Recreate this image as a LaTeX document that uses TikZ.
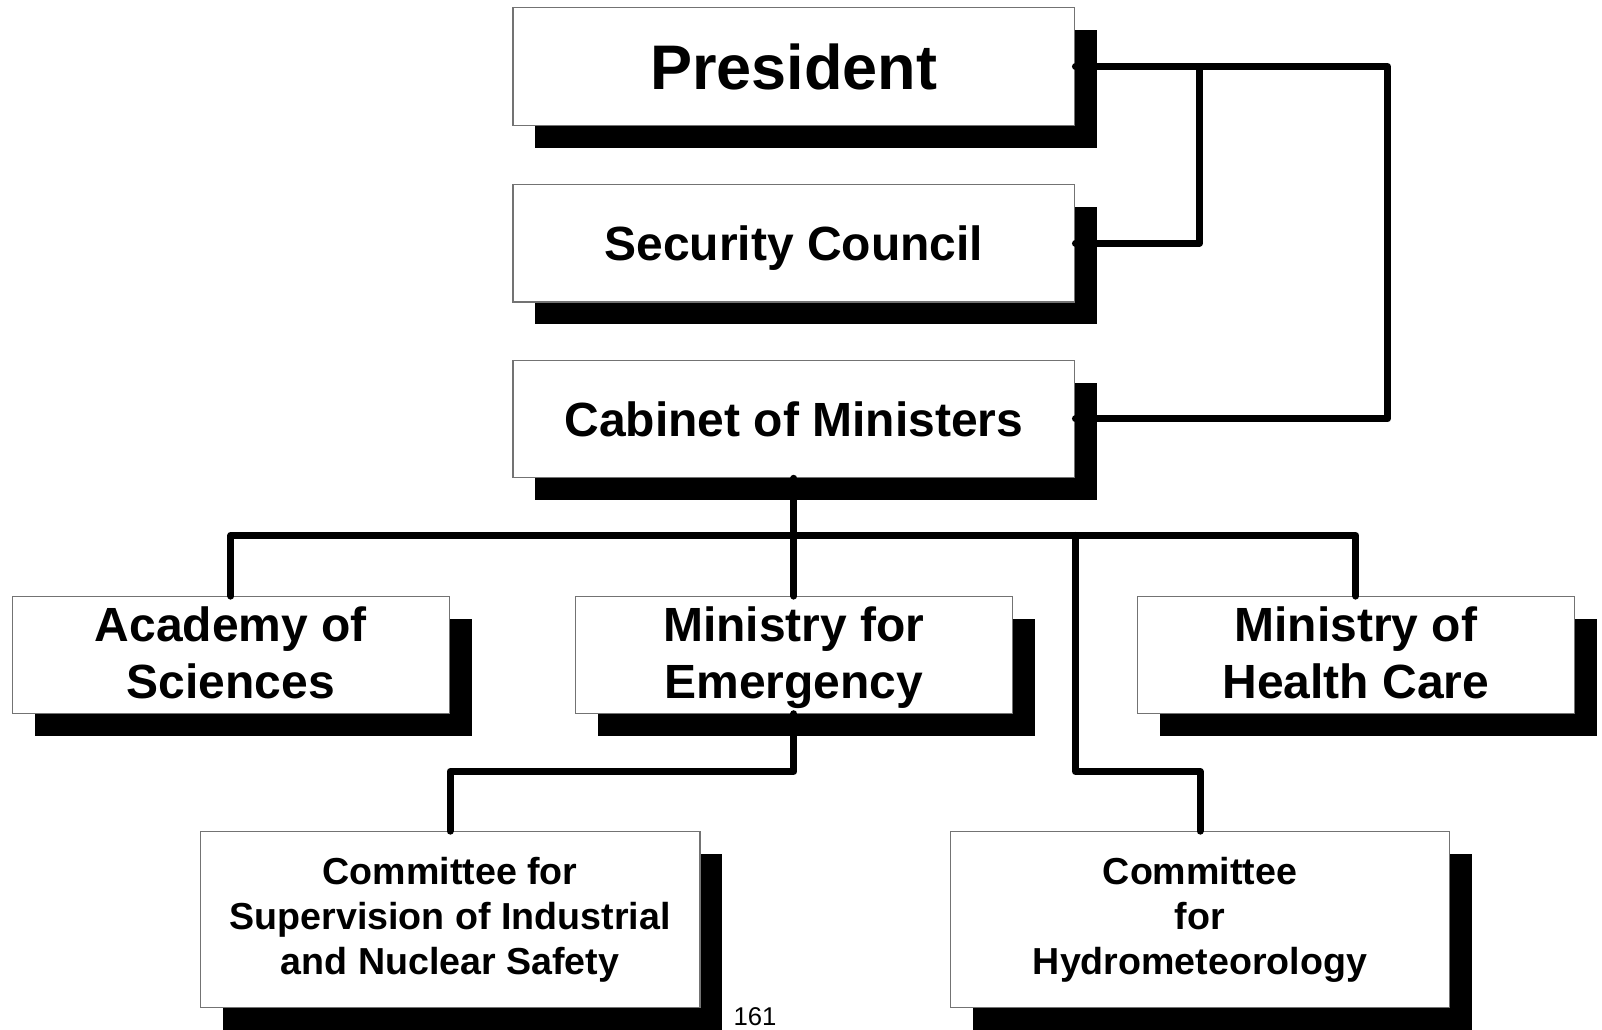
\documentclass[tikz,border=0pt]{standalone}
\usepackage{fontspec}
\setmainfont{Liberation Sans}
\usetikzlibrary{shadows}
% text with its descenders left out of the box depth
\newcommand\nodepth[1]{\raisebox{0pt}[\height][0pt]{#1}}
% fixed depth at the end of a label's last line
\newcommand\lastdepth{\rule[-4pt]{0pt}{4pt}}
\begin{document}
\begin{tikzpicture}[x=1pt,y=-1pt,
  orgbox/.style={draw=black!55, line width=1.2pt, fill=white, align=center,
    inner sep=0pt,
    drop shadow={shadow xshift=22.5pt, shadow yshift=-22.5pt, fill=black, opacity=1}},
  topbox/.style={orgbox, minimum width=561.9pt, minimum height=117.5pt},
  midbox/.style={orgbox, minimum width=437.2pt, minimum height=116.4pt,
    font=\bfseries\fontsize{48}{57}\selectfont},
  lowbox/.style={orgbox, minimum width=499.6pt, minimum height=175.7pt,
    font=\bfseries\fontsize{37.6}{45}\selectfont},
  link/.style={line width=7pt, line cap=round, line join=round}]

\fill[white] (0,0) rectangle (1602,1029);
\useasboundingbox (0,0) rectangle (1602,1029);

% top column
\node[topbox, font=\bfseries\fontsize{63}{70}\selectfont] (pres) at (793.9,66.5) {President};
\node[topbox, font=\bfseries\fontsize{48}{57}\selectfont] (sec) at (793.9,243.2) {\nodepth{Security Council}};
\node[topbox, font=\bfseries\fontsize{48}{57}\selectfont] (cab) at (793.9,418.9) {Cabinet of Ministers};

% ministries
\node[midbox] (acad) at (230.9,654.9) {Academy of\\Sciences\lastdepth};
\node[midbox] (emer) at (793.9,654.9) {Ministry for\\\nodepth{Emergency}\lastdepth};
\node[midbox] (health) at (1355.8,654.9) {Ministry of\\Health Care\lastdepth};

% committees
\node[lowbox] (supv) at (450.1,919.6) {Committee for\\Supervision of Industrial\\and Nuclear Safety};
\node[lowbox] (hydro) at (1200.0,919.6) {Committee\\for\\Hydrometeorology};

% page number
\node[anchor=base, inner sep=0pt, font=\fontsize{25.7}{30}\selectfont] (pg) at (755,1025.5) {161};

% levels of the connectors
\coordinate (rail) at (1387.5,0);
\coordinate (tap) at (1199.5,0);
\coordinate (bus) at (0,535.4);
\coordinate (lvl) at (0,771.4);

% connectors
\draw[link] (pres.east) -- (rail |- pres.east) -- (rail |- cab.east) -- (cab.east);
\draw[link] (tap |- pres.east) -- (tap |- sec.east) -- (sec.east);
\draw[link] (cab.south) -- (emer.north);
\draw[link] (acad.north) -- (acad.north |- bus) -- (health.north |- bus) -- (health.north);
\draw[link] (cab.south east |- bus) -- (cab.south east |- lvl) -| (hydro.north);
\draw[link] (emer.south) -- (emer.south |- lvl) -| (supv.north);
\end{tikzpicture}
\end{document}
